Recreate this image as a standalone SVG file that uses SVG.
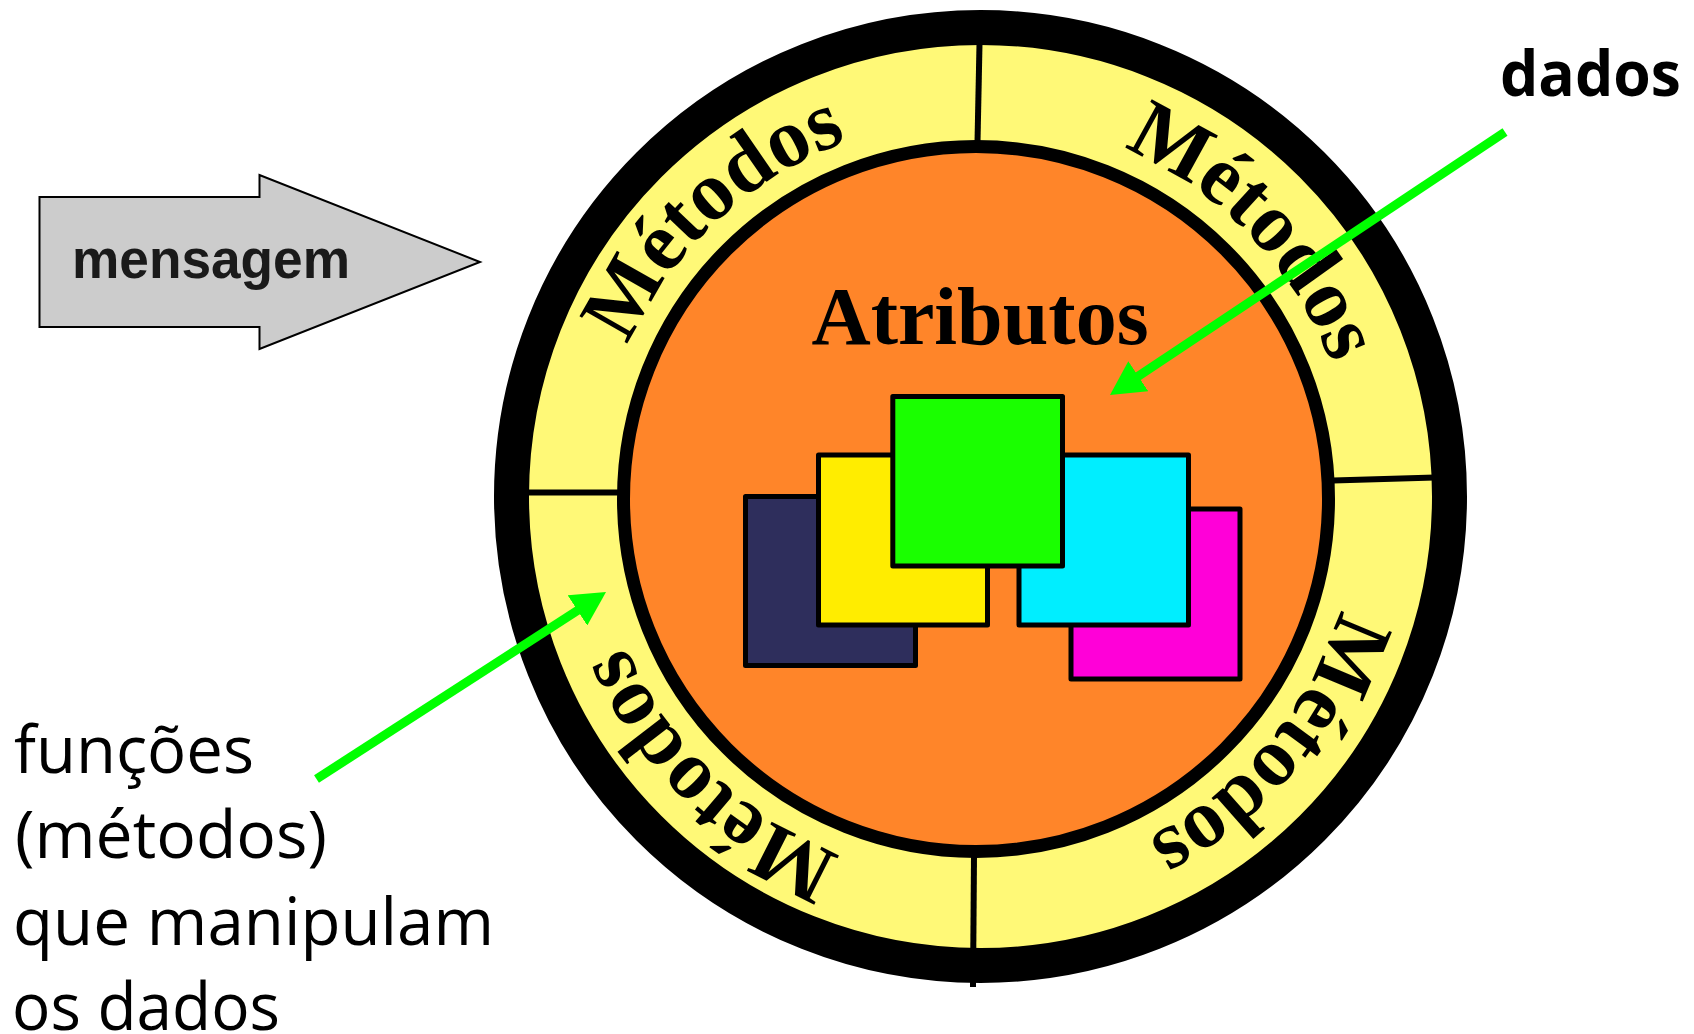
<svg xmlns="http://www.w3.org/2000/svg" width="1694" height="1034" viewBox="0 0 1694 1034">
  <style>
    .ring-label { font-family: "Liberation Serif", "Times New Roman", serif; font-weight: bold; font-size: 84px; fill: #000; }
    .note { font-family: "Open Sans", "Noto Sans", sans-serif; font-size: 66px; fill: #000; }
    .divider { stroke: #000; stroke-width: 6; }
    .data-box { stroke: #000; stroke-width: 5; stroke-linejoin: round; }
    .pointer { stroke: #00FF00; stroke-width: 9; fill: none; marker-end: url(#green-head); }
  </style>
  <defs>
    <marker id="green-head" markerUnits="userSpaceOnUse" markerWidth="34" markerHeight="36" refX="6" refY="18" orient="auto">
      <path d="M0,0 L34,18 L0,36 Z" fill="#00FF00"/>
    </marker>
    <!-- clockwise arcs (r=380) carrying the four ring labels -->
    <path id="arc-tl" d="M605.74,584.48 A380,380 0 0 1 1087.10,135.61"/>
    <path id="arc-tr" d="M884.07,130.29 A380,380 0 0 1 1341.28,603.74"/>
    <path id="arc-br" d="M1333.08,369.03 A380,380 0 0 1 910.01,873.23"/>
    <path id="arc-bl" d="M1080.74,864.28 A380,380 0 0 1 607.29,407.07"/>
  </defs>

  <rect width="1694" height="1034" fill="#fff"/>

  <!-- message arrow -->
  <g id="mensagem">
    <polygon points="39.5,197 259.5,197 259.5,175 480,262 259.5,349 259.5,327 39.5,327" fill="#CCCCCC" stroke="#000" stroke-width="2"/>
    <text x="72" y="278" font-family="Liberation Sans, Arial, sans-serif" font-weight="bold" font-size="55" fill="#1A1A1A" textLength="278" lengthAdjust="spacingAndGlyphs">mensagem</text>
  </g>

  <!-- object: methods ring -->
  <g id="metodos-ring">
    <circle cx="980.5" cy="496.5" r="469" fill="#FFF977" stroke="#000" stroke-width="35"/>
    <line class="divider" x1="979.5" y1="44" x2="977.5" y2="142"/>
    <line class="divider" x1="528" y1="492.5" x2="619" y2="492.5"/>
    <line class="divider" x1="1333" y1="480.5" x2="1435" y2="477.5"/>
    <line class="divider" x1="974" y1="856" x2="973" y2="987"/>
    <text class="ring-label"><textPath href="#arc-tl" startOffset="50%" text-anchor="middle">Métodos</textPath></text>
    <text class="ring-label"><textPath href="#arc-tr" startOffset="50%" text-anchor="middle">Métodos</textPath></text>
    <text class="ring-label"><textPath href="#arc-br" startOffset="50%" text-anchor="middle">Métodos</textPath></text>
    <text class="ring-label"><textPath href="#arc-bl" startOffset="50%" text-anchor="middle">Métodos</textPath></text>
  </g>

  <!-- object: attributes core -->
  <g id="atributos-core">
    <circle cx="976" cy="499" r="352.5" fill="#FF8529" stroke="#000" stroke-width="13"/>
    <text x="980" y="344" text-anchor="middle" font-family="Liberation Serif, Times New Roman, serif" font-weight="bold" font-size="82">Atributos</text>
  </g>

  <!-- data boxes -->
  <g id="dados-boxes">
    <rect class="data-box" x="745.5" y="496.5" width="170" height="169" fill="#2E2E5C"/>
    <rect class="data-box" x="1071" y="509" width="169" height="170" fill="#FF00D8"/>
    <rect class="data-box" x="818.5" y="455" width="169" height="170" fill="#FFED00"/>
    <rect class="data-box" x="1019" y="455" width="169.5" height="170" fill="#00EEFF"/>
    <rect class="data-box" x="892.8" y="396.5" width="169.7" height="169.5" fill="#1AFF00"/>
  </g>

  <!-- labels -->
  <g id="label-dados">
    <text x="1500" y="96" font-family="Open Sans, Noto Sans, sans-serif" font-weight="bold" font-size="62" textLength="181" lengthAdjust="spacingAndGlyphs">dados</text>
  </g>
  <g id="label-funcoes" class="note">
    <text x="14" y="773" textLength="240" lengthAdjust="spacingAndGlyphs">funções</text>
    <text x="15" y="858" textLength="312" lengthAdjust="spacingAndGlyphs">(métodos)</text>
    <text x="13" y="945" textLength="481" lengthAdjust="spacingAndGlyphs">que manipulam</text>
    <text x="12" y="1030" textLength="268" lengthAdjust="spacingAndGlyphs">os dados</text>
  </g>

  <!-- connectors -->
  <g id="connectors">
    <line class="pointer" x1="1505" y1="132" x2="1133.3" y2="379.5"/>
    <line class="pointer" x1="316.5" y1="779" x2="582.5" y2="607.2"/>
  </g>
</svg>
